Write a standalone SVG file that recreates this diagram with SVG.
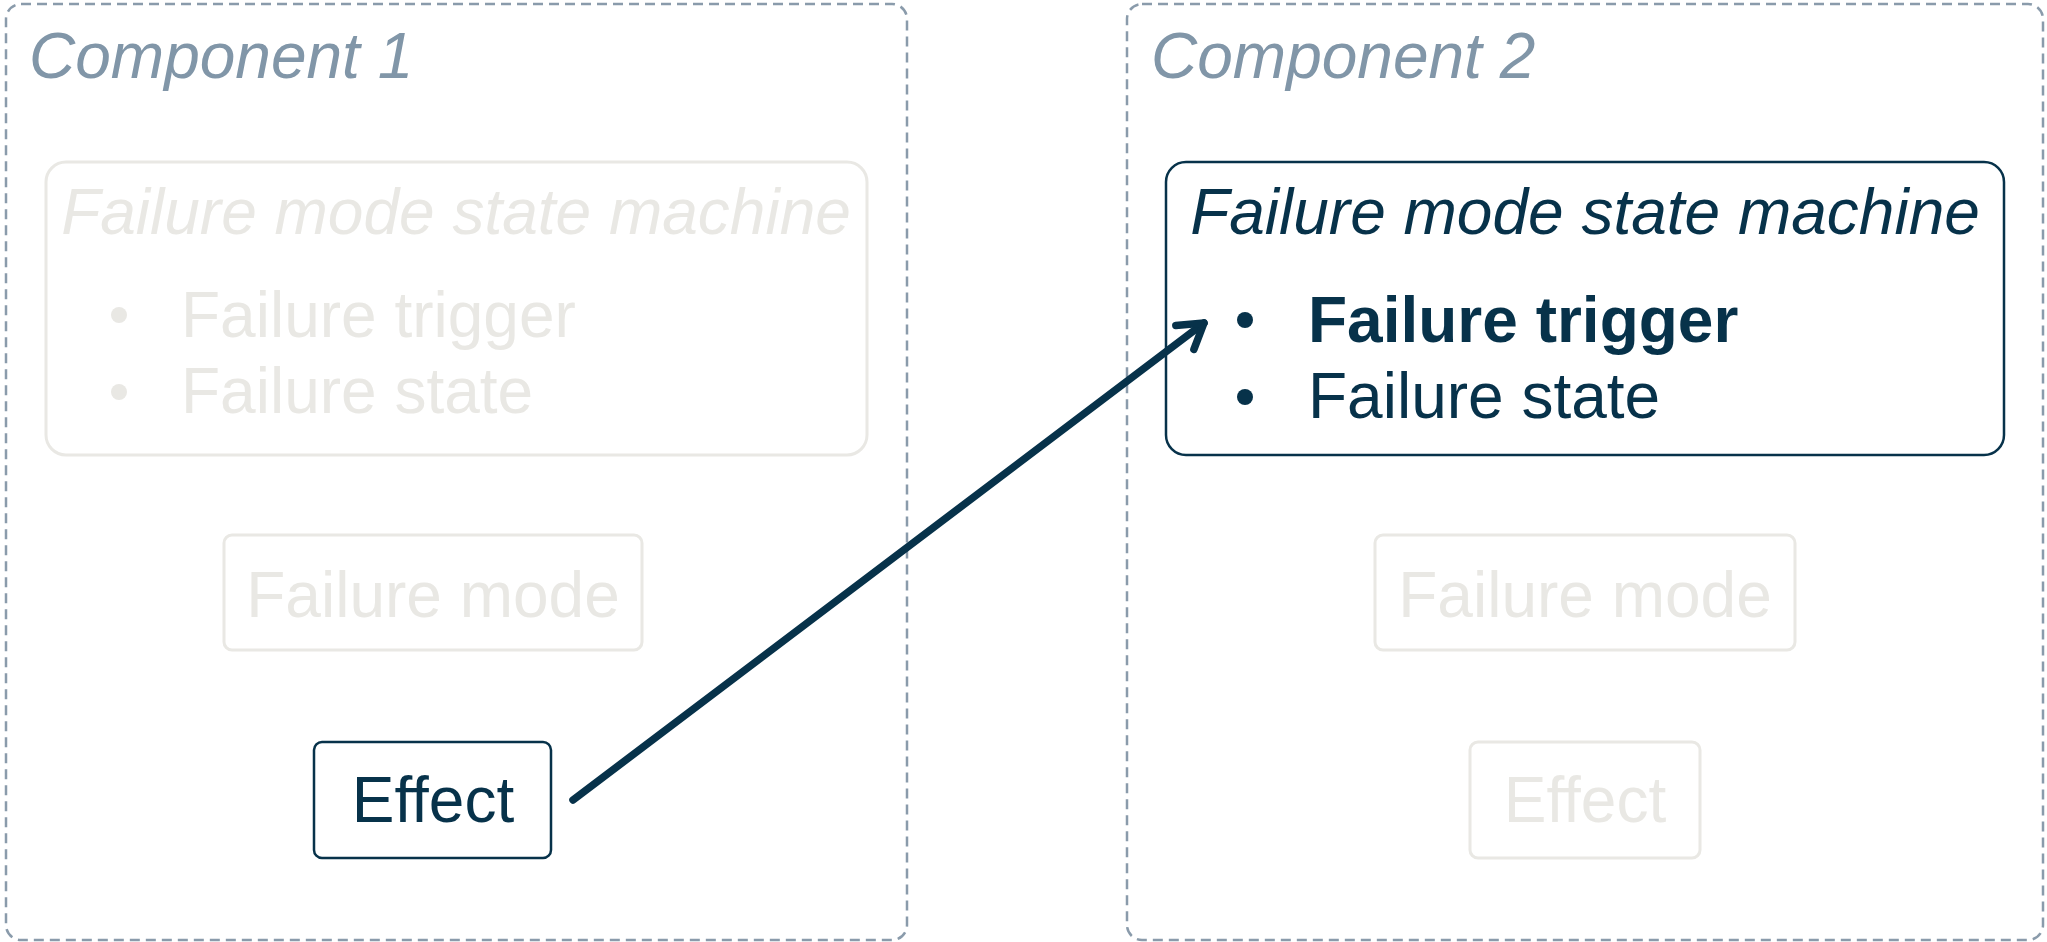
<svg xmlns="http://www.w3.org/2000/svg" width="2047" height="942" viewBox="0 0 2047 942">
<style>
.comp{fill:none;stroke:#8a9bab;stroke-width:2.5;stroke-dasharray:10 6}
.ctitle{font-family:"Liberation Sans",Arial,sans-serif;font-style:italic;font-size:64px;fill:#8196a8}
.t{font-family:"Liberation Sans",Arial,sans-serif;font-size:64px}
.it{font-style:italic}
.b{font-weight:bold}
.dim rect{fill:#ffffff;stroke:#e9e8e4;stroke-width:3}
.dim text{fill:#e9e8e4}
.dim circle{fill:#e9e8e4}
.act rect{fill:#ffffff;stroke:#07324a;stroke-width:2.5}
.act text{fill:#07324a}
.act circle{fill:#07324a}
.conn{fill:none;stroke:#07324a;stroke-width:7.5;stroke-linecap:round}
</style>
<defs>
<marker id="arrow" markerUnits="userSpaceOnUse" markerWidth="60" markerHeight="60" refX="0" refY="0" orient="auto" overflow="visible">
<path d="M -24 -15 L 0 0 L -24 15" fill="none" stroke="#07324a" stroke-width="7.5" stroke-linecap="round" stroke-linejoin="round"/>
</marker>
</defs>
<rect width="2047" height="942" fill="#ffffff"/>

<g id="component1">
<rect class="comp" x="6" y="4" width="901" height="936" rx="15"/>
<text class="ctitle" x="29" y="78">Component 1</text>
</g>
<g id="component2">
<rect class="comp" x="1127" y="4" width="916" height="936" rx="15"/>
<text class="ctitle" x="1151" y="78">Component 2</text>
</g>

<g id="c1-fmsm" class="dim">
<rect x="46" y="162" width="821" height="293" rx="20"/>
<text class="t it" x="456" y="234" text-anchor="middle">Failure mode state machine</text>
<circle cx="119" cy="315" r="8"/>
<text class="t" x="181" y="337">Failure trigger</text>
<circle cx="119" cy="392" r="8"/>
<text class="t" x="181" y="413">Failure state</text>
</g>

<g id="c1-failure-mode" class="dim">
<rect x="224" y="535" width="418" height="115" rx="8"/>
<text class="t" x="433" y="617" text-anchor="middle">Failure mode</text>
</g>

<g id="c1-effect" class="act">
<rect x="314" y="742" width="237" height="116" rx="8"/>
<text class="t" x="433" y="822" text-anchor="middle">Effect</text>
</g>

<g id="c2-fmsm" class="act">
<rect x="1166" y="162" width="838" height="293" rx="20"/>
<text class="t it" x="1585" y="234" text-anchor="middle">Failure mode state machine</text>
<circle cx="1245" cy="320" r="8"/>
<text class="t b" x="1308" y="342">Failure trigger</text>
<circle cx="1245" cy="397" r="8"/>
<text class="t" x="1308" y="418">Failure state</text>
</g>

<g id="c2-failure-mode" class="dim">
<rect x="1375" y="535" width="420" height="115" rx="8"/>
<text class="t" x="1585" y="617" text-anchor="middle">Failure mode</text>
</g>

<g id="c2-effect" class="dim">
<rect x="1470" y="742" width="230" height="116" rx="8"/>
<text class="t" x="1585" y="822" text-anchor="middle">Effect</text>
</g>

<g id="connectors">
<path class="conn" d="M 573 800 L 1204 323" marker-end="url(#arrow)"/>
</g>
</svg>
